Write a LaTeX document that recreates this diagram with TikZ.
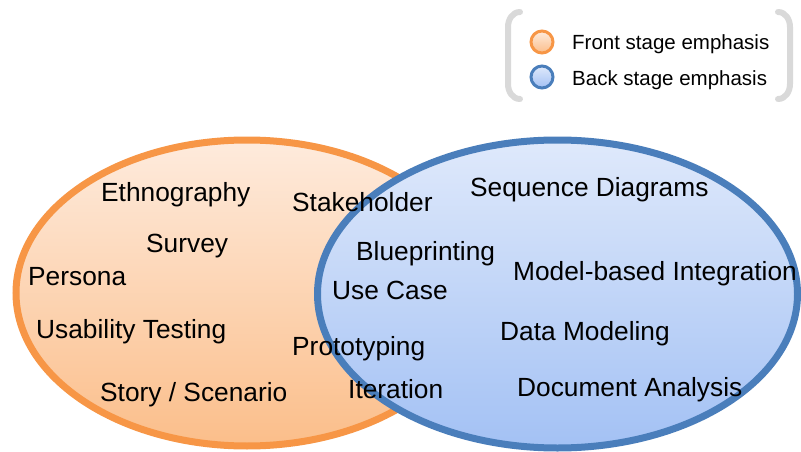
\documentclass[tikz,border=0pt]{standalone}
\usepackage{fontspec}
\setmainfont{Liberation Sans}
\usepackage{tikz}
\usetikzlibrary{shadows}

\definecolor{frontline}{HTML}{F79646}
\definecolor{fronttop}{HTML}{FEEBDD}
\definecolor{frontbot}{HTML}{FBBE8A}
\definecolor{backline}{HTML}{4A7EBB}
\definecolor{backtop}{HTML}{DFE9FB}
\definecolor{backbot}{HTML}{A3C1F4}
\definecolor{bracketgray}{HTML}{D9D9D9}

\tikzset{
  lbl/.style={anchor=base west, inner sep=0pt, font=\fontsize{26.3}{30}\selectfont},
  legtxt/.style={anchor=base west, inner sep=0pt, font=\fontsize{20.5}{24}\selectfont},
  legbracket/.style={bracketgray, line width=6pt, line cap=round}
}

\begin{document}
\begin{tikzpicture}[x=1pt,y=1pt]
\useasboundingbox (0,0) rectangle (801,451);
% the two sets
\path [draw=frontline, line width=7pt, top color=fronttop, bottom color=frontbot,
  drop shadow={shadow xshift=1pt, shadow yshift=-2pt, opacity=0.35}]
  (247,158) ellipse [x radius=231, y radius=153];
\path [draw=backline, line width=7pt, top color=backtop, bottom color=backbot,
  drop shadow={shadow xshift=1pt, shadow yshift=-2pt, opacity=0.35}]
  (557.5,157) ellipse [x radius=240, y radius=154];
% legend
\draw [legbracket] (520,439) to[out=180,in=90] (508,424) -- (508,367) to[out=-90,in=180] (520,352);
\draw [legbracket] (778,439) to[out=0,in=90] (790,424) -- (790,367) to[out=-90,in=0] (778,352);
\path [draw=frontline, line width=3pt, top color=fronttop, bottom color=frontbot] (542,409) circle [radius=11];
\path [draw=backline, line width=3pt, top color=backtop, bottom color=backbot] (542,374) circle [radius=11];
\node [legtxt] (front) at (572,401) {Front stage emphasis};
\node [legtxt] (back) at (572,366) {Back stage emphasis};
% front stage
\node [lbl] (ethno) at (101,249.5) {Ethnography};
\node [lbl] (survey) at (146,198.5) {Survey};
\node [lbl] (persona) at (28,166) {Persona};
\node [lbl] (usab) at (36,113) {Usability Testing};
\node [lbl] (story) at (100,49.5) {Story / Scenario};
% shared
\node [lbl] (stake) at (292,239.5) {Stakeholder};
\node [lbl] (proto) at (292,95.5) {Prototyping};
\node [lbl] (iter) at (348,53) {Iteration};
% back stage
\node [lbl] (seq) at (470,255) {Sequence Diagrams};
\node [lbl] (blue) at (356,191) {Blueprinting};
\node [lbl] (usecase) at (332,152) {Use Case};
\node [lbl] (model) at (513,171) {Model-based Integration};
\node [lbl] (data) at (500,111) {Data Modeling};
\node [lbl] (doc) at (517,55) {Document Analysis};
\end{tikzpicture}
\end{document}
